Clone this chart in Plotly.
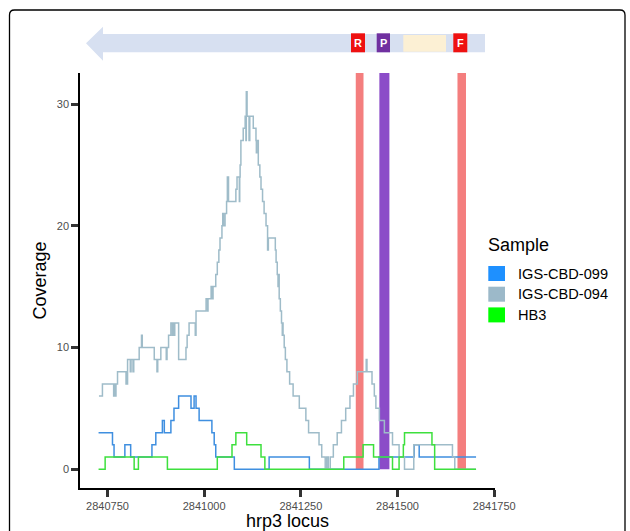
import plotly.graph_objects as go

# ---------------- data ----------------
# change points (genomic position) and coverage value from that point on
blue_x = [2840727, 2840763, 2840767, 2840795, 2840810, 2840865, 2840875, 2840892, 2840897,
          2840914, 2840922, 2840934, 2840966, 2840974, 2840979, 2840987, 2841020, 2841026,
          2841030, 2841078, 2841168, 2841272, 2841452, 2841543, 2841556, 2841703]
blue_y = [3, 2, 1, 2, 1, 2, 3, 4, 3,
          4, 5, 6, 5, 6, 5, 4, 3, 2,
          1, 0, 1, 0, 1, 2, 1, 1]

gray_x = [2840728, 2840737, 2840766, 2840768, 2840770, 2840772, 2840776, 2840798, 2840799,
          2840800, 2840802, 2840809, 2840811, 2840816, 2840818, 2840832, 2840838, 2840840,
          2840871, 2840878, 2840880, 2840888, 2840902, 2840904, 2840908, 2840914, 2840918,
          2840920, 2840922, 2840924, 2840934, 2840953, 2840956, 2840961, 2840977, 2840979,
          2841005, 2841009, 2841010, 2841018, 2841021, 2841023, 2841030, 2841034, 2841038,
          2841041, 2841046, 2841048, 2841050, 2841054, 2841058, 2841060, 2841063, 2841082,
          2841085, 2841091, 2841092, 2841093, 2841095, 2841101, 2841106, 2841108, 2841109,
          2841111, 2841116, 2841118, 2841127, 2841134, 2841135, 2841136, 2841140, 2841144,
          2841147, 2841151, 2841155, 2841160, 2841164, 2841166, 2841184, 2841186, 2841189,
          2841191, 2841192, 2841194, 2841197, 2841200, 2841202, 2841203, 2841204, 2841207,
          2841210, 2841214, 2841221, 2841230, 2841246, 2841263, 2841270, 2841297, 2841304,
          2841313, 2841317, 2841321, 2841326, 2841334, 2841344, 2841355, 2841366, 2841377,
          2841386, 2841396, 2841419, 2841421, 2841434, 2841440, 2841444, 2841453, 2841466,
          2841487, 2841504, 2841518, 2841542, 2841642, 2841648, 2841703]
gray_y = [6, 7, 6, 7, 6, 7, 8, 7, 8,
          7, 9, 8, 9, 8, 9, 10, 11, 10,
          9, 8, 9, 10, 9, 10, 11, 12, 11,
          12, 11, 12, 9, 10, 11, 12, 11, 13,
          14, 13, 14, 15, 14, 15, 16, 17, 18,
          19, 20, 21, 20, 21, 22, 24, 22, 23,
          24, 22, 24, 25, 27, 28, 29, 27, 31,
          29, 27, 29, 28, 27, 26, 27, 25, 24,
          23, 22, 21, 20, 18, 19, 18, 17, 16,
          15, 16, 14, 13, 12, 11, 12, 11, 10,
          9, 8, 7, 6, 5, 4, 3, 2, 1,
          0, 1, 0, 1, 2, 3, 4, 5, 6,
          7, 8, 9, 8, 7, 6, 5, 4, 3,
          2, 1, 0, 2, 1, 0, 0]

green_x = [2840727, 2840744, 2840819, 2840830, 2840905, 2841034, 2841072, 2841082, 2841110,
           2841147, 2841157, 2841361, 2841411, 2841438, 2841487, 2841504, 2841515, 2841518,
           2841589, 2841596, 2841703]
green_y = [0, 1, 0, 1, 0, 1, 2, 3, 2,
           1, 0, 1, 2, 1, 0, 1, 2, 3,
           2, 0, 0]

series_names = ["IGS-CBD-099", "IGS-CBD-094", "HB3"]
series_colors = ["#1E90FF", "#9CB9C9", "#00FF00"]
line_colors = ["#3f8fe0", "#9fbcc9", "#3ee03e"]

# primer / probe marks (start, end) and their colours
mark_labels = ["R", "P", "F"]
mark_start = [2841392, 2841453, 2841655]
mark_end = [2841412, 2841479, 2841677]
mark_colors = ["#F47E7E", "#8B4CC8", "#F47E7E"]

x_ticks = [2840750, 2841000, 2841250, 2841500, 2841750]
y_ticks = [0, 10, 20, 30]
x_range = [2840679, 2841752]
y_range = [-1.55, 32.55]

# ---------------- figure ----------------
W, H = 630, 531
L, R, T, B = 80, 135, 73, 43
PW, PH = W - L - R, H - T - B


def px(x):
    return (x - L) / PW


def py(y):
    return (H - B - y) / PH


FONT = "Liberation Sans, Arial, sans-serif"

fig = go.Figure()
for xs, ys, nm, col in zip([blue_x, gray_x, green_x], [blue_y, gray_y, green_y],
                           series_names, line_colors):
    fig.add_trace(go.Scatter(x=xs, y=ys, mode="lines", name=nm,
                             line=dict(color=col, width=1.5, shape="hv"),
                             showlegend=False, hoverinfo="skip"))

shapes = []
for s, e, c in zip(mark_start, mark_end, mark_colors):
    shapes.append(dict(type="rect", xref="x", yref="y", x0=s, x1=e, y0=0, y1=y_range[1],
                       fillcolor=c, line=dict(width=0), layer="below"))

# gene arrow graphic on top
arrow_pts = [(86, 43.3), (103, 26.7), (103, 34), (485, 34), (485, 52.3), (103, 52.3), (103, 60.7)]
path = "M " + " L ".join(f"{px(a):.5f},{py(b):.5f}" for a, b in arrow_pts) + " Z"
shapes.append(dict(type="path", xref="paper", yref="paper", path=path,
                   fillcolor="#D7E0F1", line=dict(width=0)))
shapes.append(dict(type="rect", xref="paper", yref="paper", x0=px(403.3), x1=px(446),
                   y0=py(51.7), y1=py(35), fillcolor="#FCF0D4", line=dict(width=0)))
boxes = [(351, 365, "#EE1111", "R"), (376.7, 390, "#7030A0", "P"), (453.3, 467.3, "#EE1111", "F")]
annotations = []
for x0, x1, c, t in boxes:
    shapes.append(dict(type="rect", xref="paper", yref="paper", x0=px(x0), x1=px(x1),
                       y0=py(52.3), y1=py(33.3), fillcolor=c, line=dict(width=0)))
    annotations.append(dict(x=px((x0 + x1) / 2), y=py(43), xref="paper", yref="paper",
                            text=f"<b>{t}</b>", showarrow=False,
                            font=dict(family=FONT, size=11, color="white"),
                            xanchor="center", yanchor="middle"))

# outer rounded border
r = 5
bx0, bx1, by0, by1 = 9.5, 625, 10, 560
bpath = (f"M {px(bx0):.5f},{py(by1):.5f} L {px(bx0):.5f},{py(by0 + r):.5f} "
         f"Q {px(bx0):.5f},{py(by0):.5f} {px(bx0 + r):.5f},{py(by0):.5f} "
         f"L {px(bx1 - r):.5f},{py(by0):.5f} "
         f"Q {px(bx1):.5f},{py(by0):.5f} {px(bx1):.5f},{py(by0 + r):.5f} "
         f"L {px(bx1):.5f},{py(by1):.5f}")
shapes.append(dict(type="path", xref="paper", yref="paper", path=bpath,
                   line=dict(color="black", width=1.3)))

# manual legend
annotations.append(dict(x=px(486), y=py(245), xref="paper", yref="paper", text="Sample",
                        showarrow=False, xanchor="left", yanchor="middle",
                        font=dict(family=FONT, size=18, color="black")))
for i, (nm, col) in enumerate(zip(series_names, series_colors)):
    cy = 273.5 + i * 20.7
    shapes.append(dict(type="rect", xref="paper", yref="paper", x0=px(488.3), x1=px(505),
                       y0=py(cy + 7.5), y1=py(cy - 7.5), fillcolor=col, line=dict(width=0)))
    annotations.append(dict(x=px(515.5), y=py(cy), xref="paper", yref="paper", text=nm,
                            showarrow=False, xanchor="left", yanchor="middle",
                            font=dict(family=FONT, size=14.6, color="black")))

fig.update_layout(
    width=W, height=H,
    margin=dict(l=L, r=R, t=T, b=B, autoexpand=False),
    paper_bgcolor="white", plot_bgcolor="white",
    shapes=shapes, annotations=annotations,
    showlegend=False,
    font=dict(family=FONT),
)
fig.update_xaxes(range=x_range, tickvals=x_ticks, ticktext=[str(v) for v in x_ticks],
                 showgrid=False, zeroline=False, showline=True, linecolor="black", linewidth=1.5,
                 ticks="outside", ticklen=7, tickwidth=3, tickcolor="#333333",
                 tickfont=dict(family=FONT, size=11, color="#4D4D4D"),
                 title=dict(text="hrp3 locus", font=dict(family=FONT, size=18, color="black"),
                            standoff=2),
                 automargin=False)
fig.update_yaxes(range=y_range, tickvals=y_ticks,
                 showgrid=False, zeroline=False, showline=True, linecolor="black", linewidth=1.5,
                 ticks="outside", ticklen=7, tickwidth=3, tickcolor="#333333",
                 tickfont=dict(family=FONT, size=11, color="#4D4D4D"),
                 title=dict(text="Coverage", font=dict(family=FONT, size=18, color="black"),
                            standoff=5),
                 automargin=False)

fig.write_html("out.html")
